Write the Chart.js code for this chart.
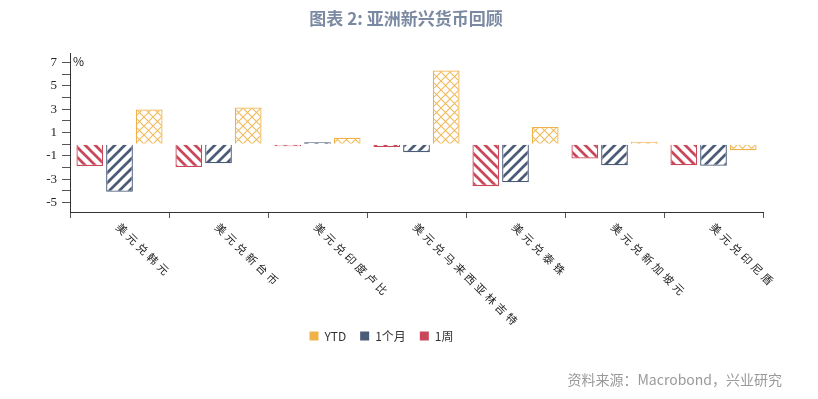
<!DOCTYPE html>
<html>
<head>
<meta charset="utf-8">
<script src="https://cdn.jsdelivr.net/npm/chart.js@4/dist/chart.umd.min.js"></script>
<style>
html,body{margin:0;padding:0;background:#fff;}
#wrap{width:818px;height:399px;}
</style>
</head>
<body>
<div id="wrap"><canvas id="c" width="818" height="399"></canvas></div>
<script>
const titleText = '图表 2: 亚洲新兴货币回顾';
const sourceText = '资料来源：Macrobond，兴业研究';
const unitText = '%';
const categories = ['美元兑韩元','美元兑新台币','美元兑印度卢比','美元兑马来西亚林吉特','美元兑泰铢','美元兑新加坡元','美元兑印尼盾'];
const seriesNames = ['1周','1个月','YTD'];
const week = [-1.86, -1.95, -0.05, -0.25, -3.59, -1.22, -1.81];
const month = [-4.07, -1.64, 0.05, -0.68, -3.25, -1.81, -1.84];
const ytd = [2.97, 3.14, 0.56, 6.30, 1.47, 0.20, -0.51];

const RED = '#c8485a', NAVY = '#4b5b77', ORANGE = '#efb24a';
const CJK = '"Noto Sans CJK SC", "Noto Sans", sans-serif';

function stripePattern(color, dir) {
  const s = 10;
  const c = document.createElement('canvas');
  c.width = s; c.height = s;
  const g = c.getContext('2d');
  g.fillStyle = '#fff'; g.fillRect(0, 0, s, s);
  g.strokeStyle = color; g.lineWidth = 2.7; g.lineCap = 'square';
  g.beginPath();
  if (dir === 'back') {
    g.moveTo(-2, -2); g.lineTo(s + 2, s + 2);
    g.moveTo(-2, s - 2); g.lineTo(2, s + 2);
    g.moveTo(s - 2, -2); g.lineTo(s + 2, 2);
  } else {
    g.moveTo(-2, s + 2); g.lineTo(s + 2, -2);
    g.moveTo(-2, 2); g.lineTo(2, -2);
    g.moveTo(s - 2, s + 2); g.lineTo(s + 2, s - 2);
  }
  g.stroke();
  return g.createPattern(c, 'repeat');
}
function crossPattern(color) {
  const s = 9;
  const c = document.createElement('canvas');
  c.width = s; c.height = s;
  const g = c.getContext('2d');
  g.fillStyle = '#fff'; g.fillRect(0, 0, s, s);
  g.strokeStyle = color; g.lineWidth = 1.1; g.globalAlpha = 0.9;
  g.beginPath();
  g.moveTo(0, 0); g.lineTo(s, s);
  g.moveTo(0, s); g.lineTo(s, 0);
  g.stroke();
  return g.createPattern(c, 'repeat');
}

const overlay = {
  id: 'overlay',
  afterDraw(chart) {
    const ctx = chart.ctx;
    const xs = chart.scales.x;
    const area = chart.chartArea;
    ctx.save();
    ctx.font = 'bold 17px ' + CJK;
    ctx.fillStyle = '#7b8aa2';
    ctx.textAlign = 'center';
    ctx.textBaseline = 'middle';
    ctx.fillText(titleText, 406, 19);
    ctx.font = '12px ' + CJK;
    ctx.fillStyle = '#222';
    ctx.textAlign = 'left';
    ctx.fillText(unitText, area.left + 3, area.top + 8);
    ctx.font = '11px ' + CJK;
    ctx.fillStyle = '#222';
    ctx.textAlign = 'center';
    ctx.textBaseline = 'middle';
    categories.forEach((label, i) => {
      const cx = xs.getPixelForValue(i);
      [...label].forEach((ch, j) => {
        ctx.save();
        ctx.translate(cx + 2.3 + 10.3 * j, area.bottom + 17 + 10 * j);
        ctx.rotate(Math.PI / 4);
        ctx.fillText(ch, 0, 0);
        ctx.restore();
      });
    });
    ctx.font = '14px ' + CJK;
    ctx.fillStyle = '#9a9a9a';
    ctx.textAlign = 'right';
    ctx.fillText(sourceText, 782, 380);
    ctx.restore();
  }
};

new Chart(document.getElementById('c'), {
  type: 'bar',
  data: {
    labels: categories,
    datasets: [
      { label: seriesNames[0], data: week, backgroundColor: stripePattern(RED, 'back'), borderColor: RED, borderWidth: 1.3, minBarLength: 2, legendColor: RED },
      { label: seriesNames[1], data: month, backgroundColor: stripePattern(NAVY, 'fwd'), borderColor: NAVY, borderWidth: 1.3, minBarLength: 2, legendColor: NAVY },
      { label: seriesNames[2], data: ytd, backgroundColor: crossPattern(ORANGE), borderColor: ORANGE, borderWidth: 1.3, minBarLength: 2, legendColor: ORANGE }
    ]
  },
  options: {
    responsive: false,
    animation: false,
    devicePixelRatio: 1,
    datasets: { bar: { barPercentage: 0.9, categoryPercentage: 0.9 } },
    layout: { padding: { top: 53, right: 55, bottom: 47, left: 0 } },
    plugins: {
      title: { display: false },
      tooltip: { enabled: false },
      legend: {
        position: 'bottom',
        reverse: true,
        labels: {
          boxWidth: 9,
          boxHeight: 9,
          padding: 14,
          color: '#333',
          font: { size: 12, family: CJK },
          generateLabels(chart) {
            const items = Chart.defaults.plugins.legend.labels.generateLabels(chart);
            items.forEach(it => {
              const ds = chart.data.datasets[it.datasetIndex];
              it.fillStyle = ds.legendColor;
              it.strokeStyle = ds.legendColor;
              it.lineWidth = 0;
            });
            return items;
          }
        }
      }
    },
    scales: {
      x: {
        grid: { drawOnChartArea: false, tickLength: 6, color: '#555', offset: true },
        border: { color: '#333', width: 1 },
        ticks: { display: false },
        afterFit(s) { s.height = 104; }
      },
      y: {
        min: -5.8,
        max: 7.8,
        ticks: {
          stepSize: 1,
          includeBounds: false,
          maxTicksLimit: 30,
          autoSkip: false,
          padding: 5,
          color: '#222',
          font: { size: 13, family: '"Liberation Serif", serif' },
          callback(v) { return Math.abs(Math.round(v)) % 2 === 1 ? String(Math.round(v)) : ''; }
        },
        grid: { drawOnChartArea: false, tickLength: 8, color: '#555' },
        border: { color: '#333', width: 1 },
        afterFit(s) { s.width = 70; }
      }
    }
  },
  plugins: [overlay]
});
</script>
</body>
</html>
